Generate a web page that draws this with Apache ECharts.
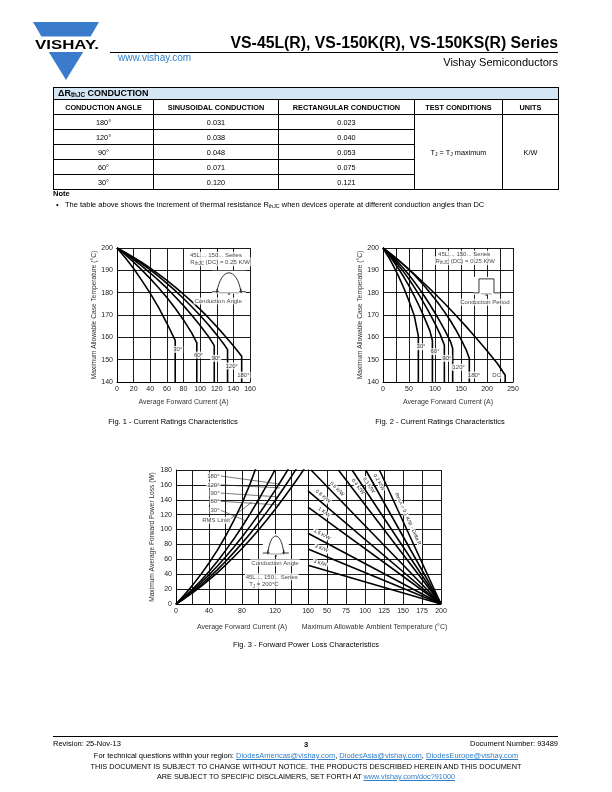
<!DOCTYPE html>
<html><head><meta charset="utf-8">
<script src="https://cdn.jsdelivr.net/npm/echarts@6/dist/echarts.min.js"></script>
<style>
html,body{margin:0;padding:0;background:#fff}
body{width:612px;height:792px;position:relative;overflow:hidden;font-family:"Liberation Sans",Arial,Helvetica,sans-serif;color:#000}
#chart{position:absolute;left:0;top:0;width:612px;height:792px}
.t{position:absolute;white-space:nowrap}
.lnk{color:#2f7fc8}
.u{text-decoration:underline}
table{border-collapse:collapse;table-layout:fixed}
td{border:1px solid #000;padding:0;font-size:7.3px;text-align:center;height:14px;line-height:9px}
td.h{font-weight:bold}
sub{font-size:70%;vertical-align:-1px;line-height:0}
</style></head><body>
<div id="chart"></div>

<svg class="t" style="left:32px;top:21px" width="72" height="62" viewBox="0 0 72 62">
  <polygon points="1,1 67,1 58.6,15.5 9.4,15.5" fill="#3a7ccb"/>
  <polygon points="16.8,31 51.2,31 34,59" fill="#3a7ccb"/>
  <text x="35" y="28" text-anchor="middle" font-family="Liberation Sans, Arial" font-weight="bold" font-size="13.5" textLength="64" lengthAdjust="spacingAndGlyphs" fill="#000">VISHAY.</text>
</svg>
<div class="t lnk" style="left:118px;top:53px;font-size:10px;line-height:10px">www.vishay.com</div>
<div class="t" style="right:54px;top:35px;font-size:15.8px;line-height:16px;font-weight:bold">VS-45L(R), VS-150K(R), VS-150KS(R) Series</div>
<div class="t" style="left:110px;top:52px;width:448px;height:1px;background:#000"></div>
<div class="t" style="right:54px;top:56px;font-size:11px;line-height:12px">Vishay Semiconductors</div>

<div class="t" style="left:53px;top:87px">
<table style="width:505px">
<colgroup><col style="width:100px"><col style="width:125px"><col style="width:136px"><col style="width:88px"><col style="width:56px"></colgroup>
<tr><td colspan="5" style="text-align:left;background:#d4e6f4;font-weight:bold;font-size:9px;height:11px;padding-left:4px">&Delta;R<sub>thJC</sub> CONDUCTION</td></tr>
<tr><td class="h">CONDUCTION ANGLE</td><td class="h">SINUSOIDAL CONDUCTION</td><td class="h">RECTANGULAR CONDUCTION</td><td class="h">TEST CONDITIONS</td><td class="h">UNITS</td></tr>
<tr><td>180&deg;</td><td>0.031</td><td>0.023</td><td rowspan="5">T<sub>J</sub> = T<sub>J</sub> maximum</td><td rowspan="5">K/W</td></tr>
<tr><td>120&deg;</td><td>0.038</td><td>0.040</td></tr>
<tr><td>90&deg;</td><td>0.048</td><td>0.053</td></tr>
<tr><td>60&deg;</td><td>0.071</td><td>0.075</td></tr>
<tr><td>30&deg;</td><td>0.120</td><td>0.121</td></tr>
</table></div>
<div class="t" style="left:53px;top:189px;font-size:7.5px;line-height:9px;font-weight:bold">Note</div>
<div class="t" style="left:56px;top:200px;font-size:7.5px;line-height:9px">&bull;</div>
<div class="t" style="left:65px;top:200px;font-size:7.5px;line-height:9px">The table above shows the increment of thermal resistance R<sub>thJC</sub> when devices operate at different conduction angles than DC</div>

<div class="t" style="left:173px;top:417px;font-size:7.5px;line-height:9px;transform:translateX(-50%)">Fig. 1 - Current Ratings Characteristics</div>
<div class="t" style="left:440px;top:417px;font-size:7.5px;line-height:9px;transform:translateX(-50%)">Fig. 2 - Current Ratings Characteristics</div>
<div class="t" style="left:306px;top:640px;font-size:7.5px;line-height:9px;transform:translateX(-50%)">Fig. 3 - Forward Power Loss Characteristics</div>

<div class="t" style="left:53px;top:736px;width:505px;height:1px;background:#000"></div>
<div class="t" style="left:53px;top:739px;font-size:7.5px;line-height:9px">Revision: 25-Nov-13</div>
<div class="t" style="left:306px;top:740px;font-size:7.5px;line-height:9px;font-weight:bold;transform:translateX(-50%)">3</div>
<div class="t" style="right:54px;top:739px;font-size:7.5px;line-height:9px">Document Number: 93489</div>
<div class="t" style="left:306px;top:751px;font-size:7.5px;line-height:9px;transform:translateX(-50%)">For technical questions within your region: <span class="lnk u">DiodesAmericas@vishay.com</span>, <span class="lnk u">DiodesAsia@vishay.com</span>, <span class="lnk u">DiodesEurope@vishay.com</span></div>
<div class="t" style="left:306px;top:762px;font-size:7.3px;line-height:9px;transform:translateX(-50%)">THIS DOCUMENT IS SUBJECT TO CHANGE WITHOUT NOTICE. THE PRODUCTS DESCRIBED HEREIN AND THIS DOCUMENT</div>
<div class="t" style="left:306px;top:772px;font-size:7.3px;line-height:9px;transform:translateX(-50%)">ARE SUBJECT TO SPECIFIC DISCLAIMERS, SET FORTH AT <span class="lnk u">www.vishay.com/doc?91000</span></div>

<script>
// ---------------- DATA ----------------
// Fig. 1 – sinusoidal conduction: max case temperature (°C) vs average forward current (A)
const f1_30_I  = [0, 10, 20, 30, 40, 50, 60, 70, 70];
const f1_30_T  = [200, 195.6, 190.8, 185.4, 179.7, 173.4, 166.3, 158.6, 140];
const f1_60_I  = [0, 10, 20, 30, 40, 50, 60, 70, 80, 90, 96, 96];
const f1_60_T  = [200, 197.0, 193.7, 190.1, 186.3, 182.2, 177.8, 173.0, 167.8, 161.9, 157.5, 140];
const f1_90_I  = [0, 10, 20, 30, 40, 50, 60, 70, 80, 90, 100, 110, 117, 117];
const f1_90_T  = [200, 197.5, 194.8, 191.9, 188.8, 185.5, 182.0, 178.2, 174.2, 169.9, 165.3, 160.4, 156.3, 140];
const f1_120_I = [0, 10, 20, 30, 40, 50, 60, 70, 80, 90, 100, 110, 120, 130, 133, 133];
const f1_120_T = [200, 197.8, 195.4, 192.9, 190.2, 187.3, 184.2, 180.9, 177.4, 173.7, 169.8, 165.6, 161.1, 156.2, 154.5, 140];
const f1_180_I = [0, 10, 20, 30, 40, 50, 60, 70, 80, 90, 100, 110, 120, 130, 140, 150, 150];
const f1_180_T = [200, 198.0, 195.8, 193.5, 191.0, 188.3, 185.5, 182.5, 179.3, 176.0, 172.5, 168.8, 164.8, 160.6, 156.2, 151.5, 140];
const f1_labels = ['30°', '60°', '90°', '120°', '180°'];
const f1_labelI = [73, 98, 119, 138, 152];
const f1_labelT = [154.6, 152.1, 150.6, 147.2, 143.1];

// Fig. 2 – rectangular conduction: max case temperature (°C) vs average forward current (A)
const f2_30_I  = [0, 10, 20, 30, 40, 50, 60, 68, 68];
const f2_30_T  = [200, 196.2, 192.0, 187.3, 182.1, 176.3, 169.8, 160.5, 140];
const f2_60_I  = [0, 10, 20, 30, 40, 50, 60, 70, 80, 90, 95, 95];
const f2_60_T  = [200, 197.2, 194.1, 190.7, 187.0, 183.0, 178.6, 173.8, 168.6, 163.0, 158.6, 140];
const f2_90_I  = [0, 10, 20, 30, 40, 50, 60, 70, 80, 90, 100, 110, 118, 118];
const f2_90_T  = [200, 197.6, 195.0, 192.2, 189.2, 186.0, 182.5, 178.8, 174.8, 170.6, 166.1, 161.3, 156.5, 140];
const f2_120_I = [0, 10, 20, 30, 40, 50, 60, 70, 80, 90, 100, 110, 120, 130, 134, 134];
const f2_120_T = [200, 197.9, 195.7, 193.3, 190.7, 187.9, 184.9, 181.7, 178.3, 174.7, 170.9, 166.9, 162.7, 158.0, 155.0, 140];
const f2_180_I = [0, 10, 20, 30, 40, 50, 60, 70, 80, 90, 100, 110, 120, 130, 140, 150, 160, 166, 166];
const f2_180_T = [200, 198.3, 196.5, 194.6, 192.5, 190.3, 188.0, 185.5, 182.9, 180.1, 177.2, 174.1, 170.8, 167.3, 163.4, 159.1, 154.4, 150.5, 140];
const f2_dc_I  = [0, 20, 40, 60, 80, 100, 120, 140, 160, 180, 200, 220, 235, 235];
const f2_dc_T  = [200, 196.3, 192.4, 188.3, 184.0, 179.5, 174.8, 169.9, 164.8, 159.5, 154.0, 148.3, 143.0, 140];
const f2_labels = ['30°', '60°', '90°', '120°', '180°', 'DC'];
const f2_labelI = [73, 100, 122.5, 145.5, 175, 218.6];
const f2_labelT = [155.8, 153.6, 150.6, 146.6, 143.1, 143.1];

// Fig. 3 – left: max average forward power loss (W) vs average forward current (A)
const f3_I     = [0, 10, 20, 30, 40, 50, 60, 70, 80, 90, 100, 110, 120, 130, 140, 150, 160];
const f3_P180  = [0, 7.1, 14.9, 23.3, 32.3, 41.9, 52.2, 63.1, 74.6, 86.7, 99.5, 112.9, 126.9, 141.6, 156.8, 172.7, 189.2];
const f3_P120  = [0, 7.8, 16.3, 25.5, 35.3, 45.9, 57.1, 69.0, 81.6, 94.8, 108.8, 123.4, 138.8, 154.8, 171.5, 188.9];
const f3_P90   = [0, 8.7, 18.1, 28.2, 39.1, 50.8, 63.1, 76.2, 90.0, 104.6, 119.9, 135.9, 152.7, 170.2, 188.5];
const f3_P60   = [0, 9.4, 19.8, 31.2, 43.7, 57.2, 71.7, 87.2, 103.8, 121.4, 140.0, 159.7, 180.3];
const f3_P30   = [0, 11.9, 25.0, 39.5, 55.0, 72.0, 91.0, 112.0, 135.0, 162.0, 192.0];
const f3_angleLabels = ['180°', '120°', '90°', '60°', '30°', 'RMS Limit'];
const f3_angleLabelI = [54, 54, 54, 54, 54, 48.5];
const f3_angleLabelP = [172, 160, 149, 138, 126, 112.5];
const f3_leaderStartI = [54, 54, 54, 54, 54, 64];
const f3_leaderEndI  = [126, 126, 123, 126, 84, 92];
const f3_leaderEndP  = [161, 156, 144, 133, 112, 137];

// Fig. 3 – right: power loss (W) vs max allowable ambient temperature (°C), R_thSA lines to (200 °C, 0 W)
const f3_rthLabels = ['R thSA = 0.1 K/W - Delta R', '0.2 K/W', '0.3 K/W', '0.4 K/W', '0.6 K/W', '0.8 K/W', '1 K/W', '1.5 K/W', '2 K/W', '3 K/W'];
const f3_rthStartTa = [119, 101, 83, 65, 29, 25, 25, 25, 25, 25];
const f3_rthStartP  = [180, 180, 180, 180, 180, 152, 130, 95, 74, 52];
const f3_rthEndTa = 200;
const f3_rthEndP = 0;
const f3_rthLabelTa = [150, 112, 99, 85, 58, 40, 42, 40, 40, 39];

// ---------------- CHART ----------------
const FONT = '"Liberation Sans", Arial, Helvetica, sans-serif';
const chart = echarts.init(document.getElementById('chart'), null, {renderer: 'canvas', width: 612, height: 792});

const grids = [
  {left: 117, top: 248, width: 133, height: 134},
  {left: 383, top: 248, width: 130, height: 134},
  {left: 176, top: 470, width: 132, height: 134},
  {left: 308, top: 470, width: 133, height: 134}
].map(g => Object.assign({containLabel: false, outerBoundsMode: 'none', show: false}, g));

function axisBase(extra) {
  return Object.assign({
    type: 'value',
    axisLine: {show: true, lineStyle: {color: '#000', width: 1}},
    axisTick: {show: false},
    splitLine: {show: true, lineStyle: {color: '#000', width: 0.9}},
    axisLabel: {fontFamily: FONT, fontSize: 7, color: '#222', margin: 4},
    nameTextStyle: {fontFamily: FONT, fontSize: 7, color: '#333'}
  }, extra);
}

const xAxes = [
  axisBase({gridIndex: 0, min: 0, max: 160, interval: 20, name: 'Average Forward Current (A)', nameLocation: 'middle', nameGap: 17}),
  axisBase({gridIndex: 1, min: 0, max: 250, interval: 25, name: 'Average Forward Current (A)', nameLocation: 'middle', nameGap: 17,
            axisLabel: {fontFamily: FONT, fontSize: 7, color: '#222', margin: 4, formatter: v => (v % 50 === 0 ? String(v) : '')}}),
  axisBase({gridIndex: 2, min: 0, max: 160, interval: 20, name: 'Average Forward Current (A)', nameLocation: 'middle', nameGap: 20,
            axisLabel: {fontFamily: FONT, fontSize: 7, color: '#222', margin: 4, formatter: v => (v % 40 === 0 ? String(v) : '')}}),
  axisBase({gridIndex: 3, min: 25, max: 200, interval: 25, name: 'Maximum Allowable Ambient Temperature (°C)', nameLocation: 'middle', nameGap: 20,
            axisLabel: {fontFamily: FONT, fontSize: 7, color: '#222', margin: 4, showMinLabel: false}})
];
const yName1 = 'Maximum Allowable Case Temperature (°C)';
const yAxes = [
  axisBase({gridIndex: 0, min: 140, max: 200, interval: 10, name: yName1, nameLocation: 'middle', nameGap: 19,
            nameTextStyle: {fontFamily: FONT, fontSize: 6.6, color: '#333'}}),
  axisBase({gridIndex: 1, min: 140, max: 200, interval: 10, name: yName1, nameLocation: 'middle', nameGap: 19,
            nameTextStyle: {fontFamily: FONT, fontSize: 6.6, color: '#333'}}),
  axisBase({gridIndex: 2, min: 0, max: 180, interval: 20, name: 'Maximum Average Forward Power Loss (W)', nameLocation: 'middle', nameGap: 20,
            nameTextStyle: {fontFamily: FONT, fontSize: 6.6, color: '#333'}}),
  axisBase({gridIndex: 3, min: 0, max: 180, interval: 20, axisLabel: {show: false}})
];

function curve(ax, xs, ys, w) {
  return {type: 'line', xAxisIndex: ax, yAxisIndex: ax, data: xs.map((v, k) => [v, ys[k]]),
    symbol: 'none', silent: true, clip: true, z: 5,
    lineStyle: {color: '#000', width: w || 1.6}};
}
function texts(ax, items, base) {
  return {type: 'scatter', xAxisIndex: ax, yAxisIndex: ax, symbolSize: 0, silent: true, z: 10, clip: false,
    data: items.map(it => ({value: [it.x, it.y], label: Object.assign({}, base, it.label || {}, {formatter: it.text})})),
    label: Object.assign({show: true, position: 'inside', fontFamily: FONT, fontSize: 6, color: '#111',
      backgroundColor: '#fff', padding: [1, 1, 0, 1]}, base)};
}
const rich = {a: {fontFamily: FONT, fontSize: 6, color: '#111'}, s: {fontFamily: FONT, fontSize: 4.5, color: '#111', padding: [3, 0, 0, 0]}};

const series = [];
// Fig 1
[[f1_30_I, f1_30_T], [f1_60_I, f1_60_T], [f1_90_I, f1_90_T], [f1_120_I, f1_120_T], [f1_180_I, f1_180_T]]
  .forEach(([a, b]) => series.push(curve(0, a, b)));
series.push(texts(0, f1_labels.map((t, k) => ({x: f1_labelI[k], y: f1_labelT[k], text: t})), {}));
series.push(texts(0, [
  {x: 119, y: 196.8, text: '{a|45L..., 150... Series}'},
  {x: 124, y: 193.8, text: '{a|R}{s|thJC}{a| (DC) = 0.25 K/W}'},
  {x: 121.6, y: 176.3, text: '{a|Conduction Angle}'}
], {rich}));
// Fig 2
[[f2_30_I, f2_30_T], [f2_60_I, f2_60_T], [f2_90_I, f2_90_T], [f2_120_I, f2_120_T], [f2_180_I, f2_180_T], [f2_dc_I, f2_dc_T]]
  .forEach(([a, b]) => series.push(curve(1, a, b)));
series.push(texts(1, f2_labels.map((t, k) => ({x: f2_labelI[k], y: f2_labelT[k], text: t})), {}));
series.push(texts(1, [
  {x: 156, y: 197.3, text: '{a|45L..., 150... Series}'},
  {x: 158, y: 194.3, text: '{a|R}{s|thJC}{a| (DC) = 0.25 K/W}'},
  {x: 196, y: 175.7, text: '{a|Conduction Period}'}
], {rich}));
// Fig 3 left
[f3_P180, f3_P120, f3_P90, f3_P60, f3_P30].forEach(p => series.push(curve(2, f3_I.slice(0, p.length), p)));
f3_angleLabels.forEach((t, k) => {
  series.push({type: 'line', xAxisIndex: 2, yAxisIndex: 2, symbol: 'none', silent: true, z: 6,
    data: [[f3_leaderStartI[k], f3_angleLabelP[k]], [f3_leaderEndI[k], f3_leaderEndP[k]]],
    lineStyle: {color: '#222', width: 0.6}});
});
series.push(texts(2, f3_angleLabels.map((t, k) => ({x: f3_angleLabelI[k], y: f3_angleLabelP[k], text: t,
  label: {align: k < 5 ? 'right' : 'center'}})), {}));
series.push(texts(2, [
  {x: 120, y: 55.5, text: '{a|Conduction Angle}'},
  {x: 116, y: 36.7, text: '{a|45L..., 150... Series}'},
  {x: 87.5, y: 26.5, text: '{a|T}{s|J}{a| = 200°C}', label: {align: 'left'}}
], {rich}));
// Fig 3 right
f3_rthLabels.forEach((t, k) => {
  series.push(curve(3, [f3_rthStartTa[k], f3_rthEndTa], [f3_rthStartP[k], f3_rthEndP]));
});

chart.setOption({animation: false, grid: grids, xAxis: xAxes, yAxis: yAxes, series});

// ---- annotations that need pixel geometry (rotated labels & icons) ----
const px = (g, x, y) => chart.convertToPixel({gridIndex: g}, [x, y]);
const graphics = [];
f3_rthLabels.forEach((t, k) => {
  const a = px(3, f3_rthStartTa[k], f3_rthStartP[k]);
  const b = px(3, f3_rthEndTa, f3_rthEndP);
  const ta = f3_rthLabelTa[k];
  const f = (ta - f3_rthStartTa[k]) / (f3_rthEndTa - f3_rthStartTa[k]);
  const x = a[0] + (b[0] - a[0]) * f, y = a[1] + (b[1] - a[1]) * f;
  const ang = Math.atan2(b[1] - a[1], b[0] - a[0]);
  const txt = k === 0 ? 'R{s|thSA} = 0.1 K/W - Delta R' : t;
  graphics.push({type: 'text', x: x + 3 * Math.sin(ang), y: y - 3 * Math.cos(ang), rotation: -ang, z: 20,
    style: {text: txt, font: '5px ' + FONT, fill: '#222', align: 'center', verticalAlign: 'bottom',
      backgroundColor: '#fff', padding: [0, 1], rich: {s: {font: '4px ' + FONT, fill: '#222'}}}});
});
function sineIcon(g, x, y, w, h) {
  const [cx, cy] = px(g, x, y);
  const l = cx - w / 2, r = cx + w / 2;
  const st = {stroke: '#000', lineWidth: 0.8, fill: null};
  return [
    {type: 'rect', shape: {x: l - 5, y: cy - h - 2, width: w + 10, height: h + 4}, style: {fill: '#fff'}, z: 18},
    {type: 'bezierCurve', shape: {x1: l, y1: cy, x2: r, y2: cy, cpx1: l + w * 0.18, cpy1: cy - h * 1.33, cpx2: r - w * 0.18, cpy2: cy - h * 1.33}, style: st, z: 19},
    {type: 'polyline', shape: {points: [[l - 5, cy], [l + 2, cy]]}, style: st, z: 19},
    {type: 'polyline', shape: {points: [[r - 2, cy], [r + 5, cy]]}, style: st, z: 19},
    {type: 'polyline', shape: {points: [[l, cy - 3], [l, cy + 1.5]]}, style: st, z: 19},
    {type: 'polyline', shape: {points: [[r, cy - 3], [r, cy + 1.5]]}, style: st, z: 19},
    {type: 'polyline', shape: {points: [[l + 2, cy + 1], [r - 2, cy + 1]]}, style: {stroke: '#000', lineWidth: 0.4, fill: null}, z: 19},
    {type: 'text', x: cx, y: cy + 0.5, style: {text: 'ø', font: '4px ' + FONT, fill: '#000', align: 'center', verticalAlign: 'top'}, z: 19}
  ];
}
function rectIcon(g, x, y, w, h) {
  const [cx, cy] = px(g, x, y);
  const l = cx - w / 2, r = cx + w / 2;
  const st = {stroke: '#000', lineWidth: 0.8, fill: null};
  return [
    {type: 'rect', shape: {x: l - 6, y: cy - h - 2, width: w + 12, height: h + 4}, style: {fill: '#fff'}, z: 18},
    {type: 'polyline', shape: {points: [[l - 6, cy], [l, cy], [l, cy - h], [r, cy - h], [r, cy], [r + 6, cy]]}, style: st, z: 19},
    {type: 'polyline', shape: {points: [[l + 2, cy + 1], [r - 2, cy + 1]]}, style: {stroke: '#000', lineWidth: 0.4, fill: null}, z: 19},
    {type: 'text', x: cx, y: cy + 0.5, style: {text: 'ø', font: '4px ' + FONT, fill: '#000', align: 'center', verticalAlign: 'top'}, z: 19}
  ];
}
graphics.push(...sineIcon(0, 134.7, 180.4, 24, 19));
graphics.push(...rectIcon(1, 199, 179.9, 15, 14));
graphics.push(...sineIcon(2, 121, 68.5, 16, 17));
chart.setOption({graphic: graphics});
</script>
</body></html>
